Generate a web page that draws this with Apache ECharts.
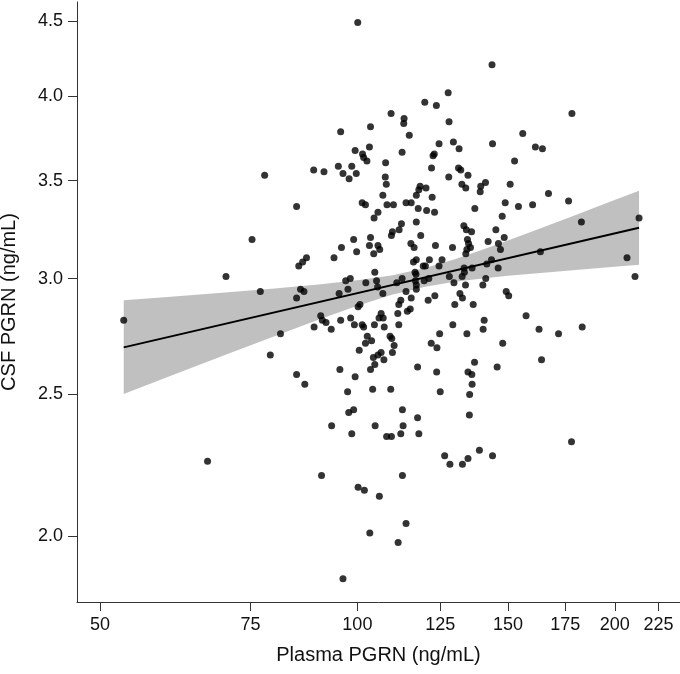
<!DOCTYPE html>
<html>
<head>
<meta charset="utf-8">
<script src="https://cdn.jsdelivr.net/npm/echarts@6.0.0/dist/echarts.min.js"></script>
<style>
  html, body { margin: 0; padding: 0; background: #fff; }
  #chart { width: 680px; height: 674px; }
</style>
</head>
<body>
<div id="chart"></div>
<script>
// plasma PGRN (x) and CSF PGRN (y), one entry per subject
const plasma = [
  127.7, 119.9, 123.7, 109.5, 113.4, 113.3, 128.0, 103.6, 95.6, 115.0,
  143.9, 124.6, 129.5, 131.5, 103.3, 99.4, 112.8, 101.4, 123.0, 122.6,
  101.7, 102.6, 107.9, 88.9, 91.4, 95.0, 98.5, 96.2, 97.8, 99.7,
  122.1, 131.3, 132.1, 127.9, 134.7, 107.8, 108.1, 132.5, 133.9, 141.2,
  139.4, 139.2, 150.9, 118.4, 120.3, 118.0, 107.1, 117.2, 122.3, 101.3,
  102.2, 108.3, 110.2, 114.0, 115.6, 117.8, 120.5, 123.1, 84.9, 137.2,
  148.9, 105.7, 104.6, 147.7, 117.2, 112.6, 109.9, 111.9, 109.6, 118.6,
  133.2, 134.1, 136.0, 145.2, 148.5, 99.0, 103.6, 103.3, 99.8, 95.8,
  93.9, 105.7, 106.2, 104.5, 115.5, 116.5, 123.4, 129.2, 134.5, 134.9,
  134.3, 135.6, 142.2, 146.2, 147.0, 133.9, 87.2, 86.3, 85.4, 117.2,
  116.3, 121.4, 125.6, 120.1, 119.4, 124.6, 133.3, 136.2, 141.7, 143.5,
  146.1, 116.8, 117.1, 104.8, 96.9, 98.1, 97.5, 102.3, 105.3, 105.6,
  111.2, 112.8, 116.9, 117.2, 117.2, 119.7, 121.2, 128.1, 129.7, 132.6,
  133.4, 140.2, 141.3, 95.2, 86.6, 85.8, 84.9, 107.1, 114.0, 115.6,
  121.0, 123.2, 131.8, 132.7, 133.8, 149.3, 150.3, 100.7, 100.2, 112.4,
  111.8, 130.0, 136.6, 114.4, 115.3, 111.5, 90.6, 91.0, 91.9, 93.2,
  95.6, 98.2, 89.0, 99.2, 101.3, 101.7, 104.7, 106.0, 106.6, 107.2,
  107.5, 109.2, 109.7, 110.4, 111.8, 129.3, 134.3, 140.7, 140.3, 124.8,
  122.0, 123.9, 147.9, 102.7, 103.9, 102.2, 100.5, 106.6, 109.9, 104.4,
  105.7, 107.4, 104.8, 103.6, 95.4, 84.9, 86.8, 99.4, 117.6, 123.8,
  137.1, 134.7, 136.1, 145.7, 97.4, 104.2, 109.4, 125.0, 136.2, 135.3,
  99.0, 97.7, 112.9, 135.2, 93.3, 113.1, 117.6, 104.9, 98.5, 108.2,
  109.6, 112.4, 118.0, 126.5, 128.3, 132.7, 134.7, 138.9, 143.9, 90.8,
  112.9, 100.2, 101.9, 106.1,
  77.9, 75.3, 70.2, 77.0, 53.3, 81.3, 79.1, 66.8, 103.4, 96.2,
  143.7, 178.2, 156.1, 161.5, 164.6, 152.7, 167.3, 176.6, 154.3, 160.3,
  182.8, 213.5, 163.7, 206.7, 211.2, 157.5, 163.1, 171.9, 183.2, 164.2,
  178.0, 114.0, 111.6, 100.1
];
const csf = [
  4.02, 3.96, 3.94, 3.89, 3.86, 3.83, 3.84, 3.81, 3.78, 3.76,
  3.71, 3.71, 3.72, 3.68, 3.69, 3.67, 3.66, 3.65, 3.65, 3.64,
  3.63, 3.61, 3.60, 3.56, 3.55, 3.58, 3.58, 3.54, 3.51, 3.54,
  3.57, 3.57, 3.56, 3.52, 3.53, 3.52, 3.48, 3.48, 3.46, 3.49,
  3.47, 3.44, 3.48, 3.47, 3.46, 3.45, 3.42, 3.42, 3.41, 3.38,
  3.37, 3.37, 3.37, 3.38, 3.38, 3.35, 3.34, 3.33, 3.36, 3.35,
  3.38, 3.33, 3.30, 3.31, 3.28, 3.27, 3.23, 3.24, 3.21, 3.21,
  3.26, 3.24, 3.23, 3.24, 3.20, 3.19, 3.20, 3.16, 3.13, 3.15,
  3.10, 3.16, 3.14, 3.12, 3.17, 3.15, 3.16, 3.15, 3.19, 3.17,
  3.14, 3.15, 3.18, 3.17, 3.14, 3.12, 3.10, 3.08, 3.06, 3.09,
  3.08, 3.09, 3.09, 3.06, 3.06, 3.06, 3.05, 3.05, 3.07, 3.09,
  3.05, 3.03, 3.02, 3.03, 2.99, 3.00, 2.95, 2.98, 2.99, 2.96,
  2.98, 3.00, 2.99, 2.97, 2.95, 2.99, 3.00, 3.01, 2.98, 3.01,
  3.03, 2.97, 3.00, 2.93, 2.94, 2.95, 2.91, 2.93, 2.94, 2.91,
  2.90, 2.92, 2.93, 2.91, 2.97, 2.94, 2.92, 2.88, 2.87, 2.90,
  2.88, 2.88, 2.88, 2.85, 2.86, 2.84, 2.83, 2.81, 2.80, 2.77,
  2.81, 2.82, 2.78, 2.79, 2.79, 2.78, 2.79, 2.82, 2.84, 2.82,
  2.78, 2.74, 2.73, 2.70, 2.79, 2.79, 2.75, 2.81, 2.77, 2.75,
  2.71, 2.69, 2.71, 2.74, 2.72, 2.71, 2.68, 2.67, 2.67, 2.65,
  2.66, 2.64, 2.62, 2.60, 2.60, 2.58, 2.54, 2.57, 2.61, 2.59,
  2.63, 2.59, 2.58, 2.61, 2.51, 2.52, 2.52, 2.51, 2.54, 2.50,
  2.44, 2.43, 2.44, 2.42, 2.38, 2.38, 2.41, 2.38, 2.35, 2.34,
  2.34, 2.35, 2.35, 2.27, 2.24, 2.24, 2.26, 2.29, 2.27, 2.20,
  2.20, 2.16, 2.15, 2.13,
  3.53, 3.19, 3.01, 2.94, 2.81, 2.75, 2.66, 2.25, 2.01, 1.87,
  4.20, 3.89, 3.77, 3.69, 3.68, 3.61, 3.43, 3.39, 3.36, 3.37,
  3.28, 3.30, 3.13, 3.10, 3.01, 2.83, 2.77, 2.75, 2.78, 2.64,
  2.32, 2.04, 1.98, 4.49
];

// fitted line and its confidence band
const fitX = [53.3, 213.5];
const fitY = [2.692, 3.250];
const bandX = [53.3, 60, 70, 80, 90, 100, 110, 120, 130, 140, 150, 165, 180, 195, 213.5];
const bandUpper = [2.900, 2.914, 2.935, 2.954, 2.972, 2.992, 3.016, 3.050, 3.093, 3.139, 3.185, 3.252, 3.316, 3.376, 3.445];
const bandLower = [2.502, 2.569, 2.660, 2.740, 2.812, 2.874, 2.926, 2.962, 2.985, 3.001, 3.013, 3.028, 3.041, 3.053, 3.066];

const xTicks = [50, 75, 100, 125, 150, 175, 200, 225];
const yTicks = [2.0, 2.5, 3.0, 3.5, 4.0, 4.5];

const FONT = "'Liberation Sans', Arial, sans-serif";
const axisColor = '#333';

const chart = echarts.init(document.getElementById('chart'));

chart.setOption({
  animation: false,
  backgroundColor: '#fff',
  grid: { left: 77, right: 0, top: 2, bottom: 72, outerBoundsMode: 'none' },
  xAxis: {
    type: 'log',
    logBase: 10,
    min: 47,
    max: 238.4,
    name: 'Plasma PGRN (ng/mL)',
    nameLocation: 'middle',
    nameGap: 43,
    nameTextStyle: { fontFamily: FONT, fontSize: 20, color: '#111' },
    axisLine: { show: true, lineStyle: { color: axisColor, width: 1 } },
    axisTick: { show: true, length: 9, customValues: xTicks, lineStyle: { color: axisColor } },
    axisLabel: {
      customValues: xTicks,
      margin: 14,
      fontFamily: FONT,
      fontSize: 18,
      color: '#111',
      formatter: v => String(Math.round(v))
    },
    minorTick: { show: false },
    splitLine: { show: false }
  },
  yAxis: {
    type: 'log',
    logBase: 10,
    min: 1.803,
    max: 4.637,
    name: 'CSF PGRN (ng/mL)',
    nameLocation: 'middle',
    nameRotate: 90,
    nameGap: 58,
    nameTextStyle: { fontFamily: FONT, fontSize: 20, color: '#111' },
    axisLine: { show: true, lineStyle: { color: axisColor, width: 1 } },
    axisTick: { show: true, length: 9, customValues: yTicks, lineStyle: { color: axisColor } },
    axisLabel: {
      customValues: yTicks,
      margin: 14,
      fontFamily: FONT,
      fontSize: 18,
      color: '#111',
      formatter: v => Number(v).toFixed(1)
    },
    splitLine: { show: false }
  },
  series: [
    {
      type: 'custom',
      z: 1,
      silent: true,
      data: [[bandX[0], bandUpper[0]]],
      renderItem: function (params, api) {
        const pts = [];
        for (let i = 0; i < bandX.length; i++) pts.push(api.coord([bandX[i], bandUpper[i]]));
        for (let i = bandX.length - 1; i >= 0; i--) pts.push(api.coord([bandX[i], bandLower[i]]));
        return { type: 'polygon', shape: { points: pts }, style: { fill: '#c0c0c0' } };
      }
    },
    {
      type: 'line',
      z: 2,
      showSymbol: false,
      data: fitX.map((x, i) => [x, fitY[i]]),
      lineStyle: { color: '#000', width: 2 }
    },
    {
      type: 'scatter',
      z: 3,
      symbol: 'circle',
      symbolSize: 7,
      data: plasma.map((x, i) => [x, csf[i]]),
      itemStyle: { color: '#000' }
    }
  ]
});
</script>
</body>
</html>
